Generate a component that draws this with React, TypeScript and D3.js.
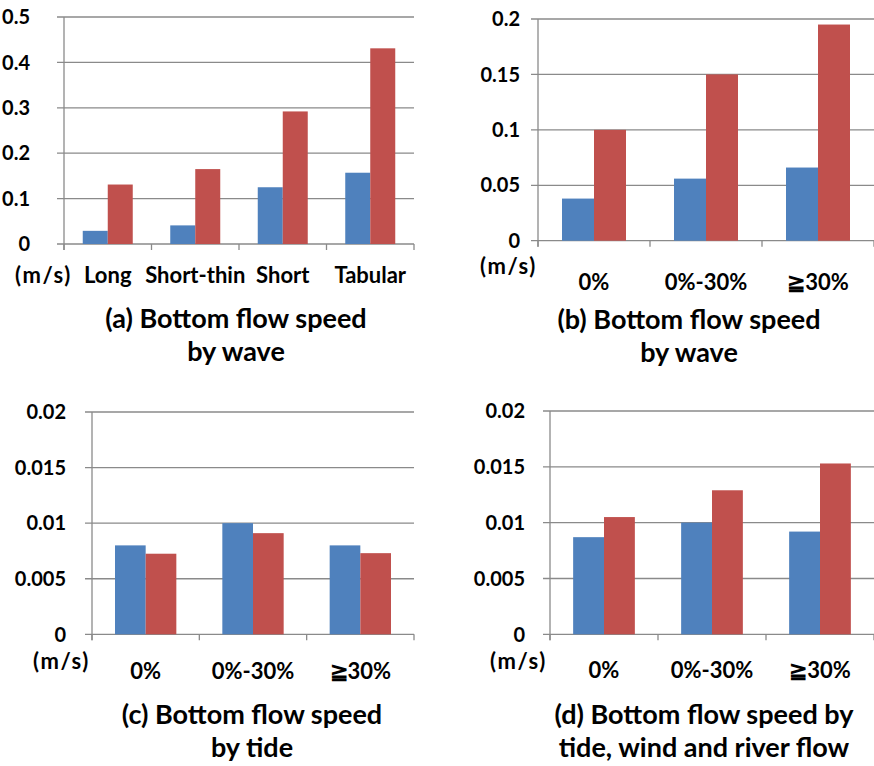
import React from "react";
import * as d3 from "d3";

// ---- data ----
const catsA = ["Long", "Short-thin", "Short", "Tabular"];
const blueA = [0.029, 0.041, 0.125, 0.157];
const redA = [0.131, 0.165, 0.292, 0.431];
const ticksA = [0, 0.1, 0.2, 0.3, 0.4, 0.5];

const catsB = ["0%", "0%-30%", "≧30%"];
const blueB = [0.038, 0.056, 0.066];
const redB = [0.1, 0.15, 0.195];
const ticksB = [0, 0.05, 0.1, 0.15, 0.2];

const catsC = ["0%", "0%-30%", "≧30%"];
const blueC = [0.008, 0.01, 0.008];
const redC = [0.00725, 0.0091, 0.0073];

const catsD = ["0%", "0%-30%", "≧30%"];
const blueD = [0.0087, 0.01, 0.0092];
const redD = [0.0105, 0.0129, 0.0153];
const ticksCD = [0, 0.005, 0.01, 0.015, 0.02];

const BLUE = "#4F81BD";
const RED = "#C0504D";
const GRID = "#8a8a8a";
const FONT = "Lato, 'Open Sans', sans-serif";

type PanelProps = {
  cats: string[];
  blue: number[];
  red: number[];
  ticks: number[];
  left: number;
  right: number;
  top: number;
  zero: number;
  tickLabelX: number;
  unitX: number;
  unitY: number;
  catY: number;
  title: string[];
  titleX: number;
  titleY: number;
};

function Panel(p: PanelProps) {
  const max = p.ticks[p.ticks.length - 1];
  const y = d3.scaleLinear().domain([0, max]).range([p.zero, p.top]);
  const x0 = d3.scaleBand<string>().domain(p.cats).range([p.left, p.right]).padding(0);
  const bw = x0.bandwidth();
  // excel style gap width 150%
  const off = (0.75 * bw) / 3.5;
  const x1 = d3.scaleBand<string>().domain(["blue", "red"]).range([off, bw - off]).padding(0);
  const series = [
    { key: "blue", values: p.blue, color: BLUE },
    { key: "red", values: p.red, color: RED },
  ];
  const edges = [...p.cats.map((c) => x0(c) as number), p.right];

  return (
    <g>
      {/* gridlines + tick labels */}
      {p.ticks.map((t) => (
        <g key={t}>
          <line x1={p.left - 7} x2={p.right} y1={y(t)} y2={y(t)} stroke={GRID} strokeWidth={1.3} />
          <text
            x={p.tickLabelX}
            y={y(t)}
            dy="0.36em"
            textAnchor="end"
            fontSize={20}
            fontWeight="bold"
            fontFamily={FONT}
          >
            {String(t)}
          </text>
        </g>
      ))}
      {/* y axis */}
      <line x1={p.left} x2={p.left} y1={p.top} y2={p.zero + 6} stroke={GRID} strokeWidth={1.3} />
      {/* x category ticks */}
      {edges.map((e, i) => (
        <line key={i} x1={e} x2={e} y1={p.zero} y2={p.zero + 6} stroke={GRID} strokeWidth={1.3} />
      ))}
      {/* bars */}
      {series.map((s) =>
        p.cats.map((c, i) => (
          <rect
            key={s.key + c}
            x={(x0(c) as number) + (x1(s.key) as number)}
            y={y(s.values[i])}
            width={x1.bandwidth()}
            height={p.zero - y(s.values[i])}
            fill={s.color}
          />
        ))
      )}
      {/* category labels */}
      {p.cats.map((c) => (
        <text
          key={c}
          x={(x0(c) as number) + bw / 2}
          y={p.catY}
          textAnchor="middle"
          fontSize={22}
          fontWeight="bold"
          fontFamily={FONT}
        >
          {c}
        </text>
      ))}
      <text
        x={p.unitX}
        y={p.unitY}
        textAnchor="end"
        fontSize={22}
        letterSpacing={1.6}
        fontWeight="bold"
        fontFamily={FONT}
      >
        (m/s)
      </text>
      {p.title.map((line, i) => (
        <text
          key={i}
          x={p.titleX}
          y={p.titleY + i * 33}
          textAnchor="middle"
          fontSize={27}
          fontWeight="bold"
          fontFamily={FONT}
        >
          {line}
        </text>
      ))}
    </g>
  );
}

export default function App() {
  return (
    <svg
      width={874}
      height={766}
      style={{ position: "absolute", left: 0, top: 0, background: "#fff" }}
    >
      <Panel
        cats={catsA}
        blue={blueA}
        red={redA}
        ticks={ticksA}
        left={64}
        right={414}
        top={17}
        zero={244}
        tickLabelX={30}
        unitX={72}
        unitY={283}
        catY={283}
        title={["(a) Bottom flow speed", "by wave"]}
        titleX={236}
        titleY={328}
      />
      <Panel
        cats={catsB}
        blue={blueB}
        red={redB}
        ticks={ticksB}
        left={538}
        right={874}
        top={19}
        zero={240.7}
        tickLabelX={520}
        unitX={537}
        unitY={274}
        catY={290}
        title={["(b) Bottom flow speed", "by wave"]}
        titleX={689}
        titleY={329}
      />
      <Panel
        cats={catsC}
        blue={blueC}
        red={redC}
        ticks={ticksCD}
        left={92}
        right={414}
        top={412}
        zero={634.3}
        tickLabelX={66}
        unitX={90}
        unitY={669}
        catY={679}
        title={["(c) Bottom flow speed", "by tide"]}
        titleX={252}
        titleY={724}
      />
      <Panel
        cats={catsD}
        blue={blueD}
        red={redD}
        ticks={ticksCD}
        left={550}
        right={874}
        top={411}
        zero={634.3}
        tickLabelX={525}
        unitX={547}
        unitY={669}
        catY={678}
        title={["(d) Bottom flow speed by", "tide, wind and river flow"]}
        titleX={704}
        titleY={724}
      />
    </svg>
  );
}
